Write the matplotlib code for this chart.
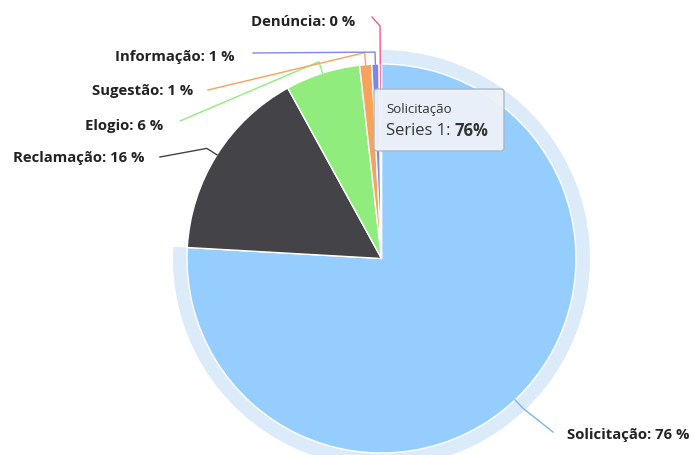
import matplotlib.pyplot as plt
import numpy as np
from matplotlib.patches import Wedge, FancyBboxPatch

labels = ['Solicitação', 'Reclamação', 'Elogio', 'Sugestão', 'Informação', 'Denúncia']
values = [75.9, 16.1, 6.2, 1.0, 0.6, 0.2]
colors = ['#96cdff', '#434348', '#90ed7d', '#f7a35c', '#8085e9', '#f15c80']
line_colors = ['#7cb5ec', '#434348', '#90ed7d', '#f7a35c', '#8085e9', '#f15c80']

W, H = 694, 455
cx, cy, R = 381.5, H - 258.5, 194.5

# label layout (pixel coords, y from top): text anchor x, text y, connector start
label_x = [567, 145, 163, 193, 235, 355]
label_y = [435, 158, 126, 91, 57, 22]
conn_x = [553, 160, 180, 208, 253, 372]
conn_y = [432, 157, 121, 90, 53, 17]
bend_off = [12, 12, 12, 12, 12, 38]

plt.rcParams['font.family'] = ['Open Sans', 'DejaVu Sans']
fig = plt.figure(figsize=(W / 100, H / 100), dpi=100)
ax = fig.add_axes([0, 0, 1, 1])

wedges, _ = ax.pie(values, colors=colors, startangle=90, counterclock=False,
                   center=(cx, cy), radius=R, frame=True,
                   wedgeprops=dict(edgecolor='white', linewidth=1))
ax.set_xlim(0, W)
ax.set_ylim(0, H)
ax.set_aspect('equal')
ax.axis('off')

# hover halo around first slice
t1, t2 = wedges[0].theta1, wedges[0].theta2
ax.add_patch(Wedge((cx, cy), R + 14, t1, t2, width=14, facecolor='#dcebf9',
                   edgecolor='none', zorder=0))

total = sum(values)
cum = 0
for i, v in enumerate(values):
    mid = np.radians(90 - 360 * (cum + v / 2) / total)
    cum += v
    ex, ey = cx + R * np.cos(mid), cy + R * np.sin(mid)
    bx, by = cx + (R + bend_off[i]) * np.cos(mid), cy + (R + bend_off[i]) * np.sin(mid)
    ax.plot([conn_x[i], bx, ex], [H - conn_y[i], by, ey], color=line_colors[i],
            lw=1, zorder=3)
    pct = round(v / total * 100)
    ha = 'left' if i == 0 else 'right'
    ax.text(label_x[i], H - label_y[i], f'{labels[i]}: {pct} %', ha=ha, va='center',
            fontsize=10.7, fontweight='bold', color='#222222')

# tooltip
ax.add_patch(FancyBboxPatch((374, H - 151), 130, 62, boxstyle='round,pad=0,rounding_size=3',
                            facecolor='#edf2f8', edgecolor='#a9b5c2', lw=1, alpha=0.95,
                            zorder=5))
ax.text(386, H - 110, labels[0], fontsize=9.5, color='#333333', va='center', zorder=6)
t = ax.text(386, H - 131, 'Series 1:', fontsize=12, color='#333333', va='center', zorder=6)
fig.canvas.draw()
x_end = ax.transData.inverted().transform(t.get_window_extent().p1)[0]
ax.text(x_end + 4, H - 131, f'{round(values[0])}%', fontsize=12, fontweight='bold',
        color='#333333', va='center', zorder=6)

fig.savefig('out.png', dpi=100)
